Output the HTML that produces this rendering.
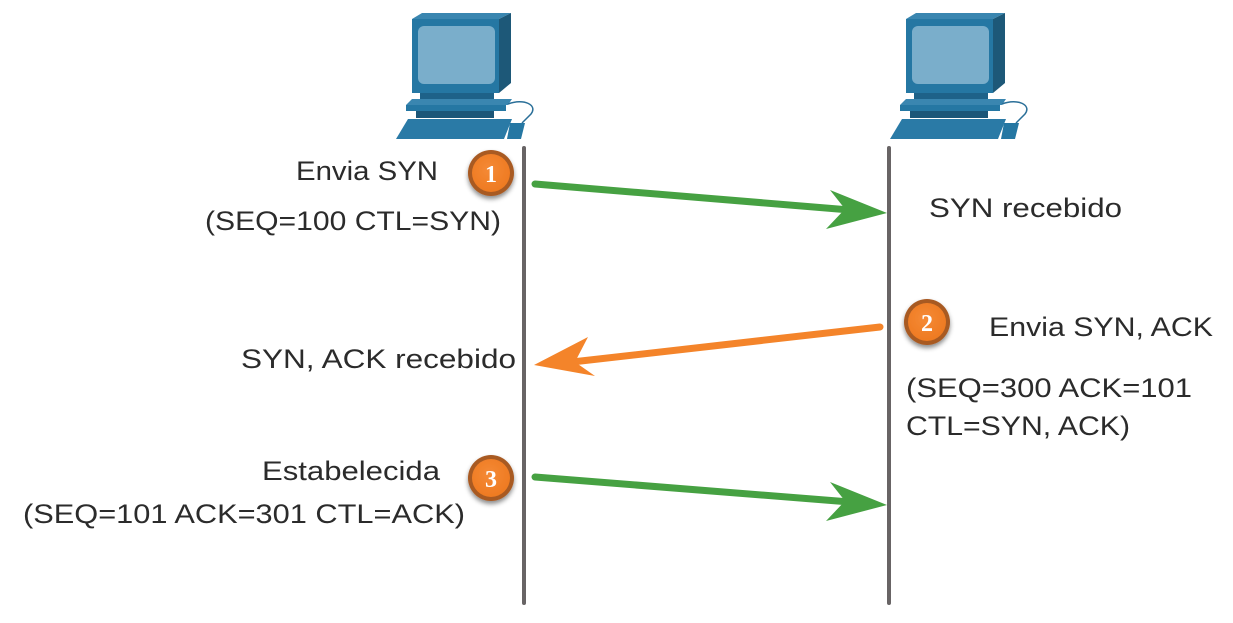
<!DOCTYPE html>
<html><head><meta charset="utf-8"><style>
html,body{margin:0;padding:0;background:#fff;}
svg{display:block;}
text{font-family:"Liberation Sans",Arial,sans-serif;font-size:27px;fill:#2b2b2b;}
.b{font-family:"Liberation Serif",serif;font-weight:bold;font-size:24px;fill:#fff;}
</style></head><body>
<svg width="1233" height="623" viewBox="0 0 1233 623" xmlns="http://www.w3.org/2000/svg">
<defs>
<g id="pc">
  <polygon points="0,6 10,0 99,0 87,6" fill="#3a86b0"/>
  <polygon points="87,6 99,0 99,70 87,80" fill="#1d5878"/>
  <rect x="0" y="6" width="87" height="74" fill="#2577a3"/>
  <rect x="6" y="13" width="77" height="58" rx="6" fill="#7aaecb"/>
  <rect x="8" y="80" width="74" height="6" fill="#1e6289"/>
  <polygon points="-6,92 0,86 100,86 96,92" fill="#3a86b0"/>
  <rect x="-6" y="92" width="100" height="6" fill="#2577a3"/>
  <rect x="4" y="98" width="78" height="7" fill="#1b5678"/>
  <polygon points="-16,126 -4,106 100,106 92,126" fill="#2a7aa6"/>
  <polygon points="95,126 98,110 113,110 109,126" fill="#2577a3"/>
  <path d="M96,91 C112,85 126,92 119,101 L110,110" fill="none" stroke="#2a6f98" stroke-width="1.5"/>
</g>
<radialGradient id="og" cx="0.45" cy="0.4" r="0.6">
  <stop offset="0" stop-color="#f58a35"/><stop offset="1" stop-color="#ee7a22"/>
</radialGradient>
<filter id="sh" x="-50%" y="-50%" width="200%" height="200%">
  <feDropShadow dx="0" dy="3" stdDeviation="2.5" flood-color="#000" flood-opacity="0.45"/>
</filter>
</defs>

<use href="#pc" x="412" y="13"/>
<use href="#pc" x="906" y="13"/>

<line x1="524" y1="148" x2="524" y2="603" stroke="#686465" stroke-width="4" stroke-linecap="round"/>
<line x1="889" y1="148" x2="889" y2="603" stroke="#686465" stroke-width="4" stroke-linecap="round"/>

<line x1="535" y1="184" x2="850" y2="210" stroke="#46a142" stroke-width="7" stroke-linecap="round"/>
<polygon points="887,213 830,190 845,209 826,229" fill="#46a142"/>
<line x1="880" y1="327" x2="572" y2="362" stroke="#f4842a" stroke-width="7" stroke-linecap="round"/>
<polygon points="534,365 588,337 575,362 595,376" fill="#f4842a"/>
<line x1="535" y1="477" x2="850" y2="502" stroke="#46a142" stroke-width="7" stroke-linecap="round"/>
<polygon points="887,505 830,482 845,501 826,521" fill="#46a142"/>

<g filter="url(#sh)">
<circle cx="491" cy="173" r="23" fill="#a85a24"/><circle cx="491" cy="173" r="19" fill="url(#og)"/>
<circle cx="927" cy="322" r="23" fill="#a85a24"/><circle cx="927" cy="322" r="19" fill="url(#og)"/>
<circle cx="491" cy="478" r="23" fill="#a85a24"/><circle cx="491" cy="478" r="19" fill="url(#og)"/>
</g>
<text class="b" x="491" y="182" text-anchor="middle">1</text>
<text class="b" x="927" y="331" text-anchor="middle">2</text>
<text class="b" x="491" y="487" text-anchor="middle">3</text>

<text x="296" y="180" textLength="142" lengthAdjust="spacingAndGlyphs">Envia SYN</text>
<text x="205" y="230" textLength="296" lengthAdjust="spacingAndGlyphs">(SEQ=100 CTL=SYN)</text>
<text x="929" y="217" textLength="193" lengthAdjust="spacingAndGlyphs">SYN recebido</text>
<text x="989" y="336" textLength="224" lengthAdjust="spacingAndGlyphs">Envia SYN, ACK</text>
<text x="241" y="368" textLength="275" lengthAdjust="spacingAndGlyphs">SYN, ACK recebido</text>
<text x="906" y="397" textLength="286" lengthAdjust="spacingAndGlyphs">(SEQ=300 ACK=101</text>
<text x="906" y="435" textLength="224" lengthAdjust="spacingAndGlyphs">CTL=SYN, ACK)</text>
<text x="262" y="480" textLength="178" lengthAdjust="spacingAndGlyphs">Estabelecida</text>
<text x="23" y="523" textLength="442" lengthAdjust="spacingAndGlyphs">(SEQ=101 ACK=301 CTL=ACK)</text>
</svg>
</body></html>
